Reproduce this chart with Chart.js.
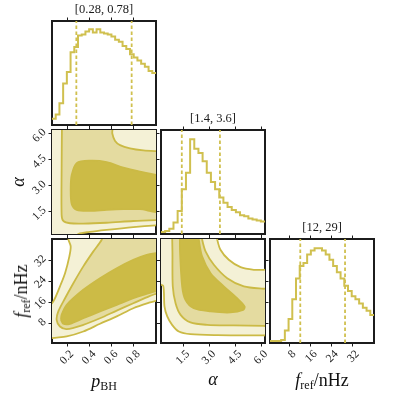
<!DOCTYPE html>
<html><head><meta charset="utf-8">
<script src="https://cdn.jsdelivr.net/npm/chart.js@4.4.0/dist/chart.umd.min.js"></script>
<style>
html,body{margin:0;padding:0;background:#fff;}
#wrap{position:relative;width:395px;height:395px;overflow:hidden;background:#fff;}
canvas{position:absolute;}
.lab{position:absolute;font-family:"Liberation Serif",serif;font-size:18px;color:#111;white-space:nowrap;line-height:1;}
.lab i{font-style:italic;}
.lab sub{font-size:12px;vertical-align:-3px;line-height:0;}
</style></head><body><div id="wrap"></div>
<script>
// ---------------- data ----------------
const pRange = [0.06, 1.0];
const aRange = [0.2, 6.2];
const fRange = [0.5, 40];
const pTicks = [0.2, 0.4, 0.6, 0.8];
const aTicks = [1.5, 3.0, 4.5, 6.0];
const fTicks = [8, 16, 24, 32];

// 1D marginal histograms (relative heights)
const pHist = [0.06,0.10,0.21,0.40,0.51,0.70,0.75,0.86,0.87,0.90,0.92,0.89,0.92,0.89,
               0.88,0.87,0.85,0.82,0.80,0.76,0.73,0.68,0.65,0.62,0.59,0.56,0.52,0.50];
const aHist = [0.02,0.03,0.05,0.11,0.22,0.43,0.59,0.91,0.82,0.78,0.70,0.59,0.50,0.43,
               0.35,0.30,0.26,0.23,0.21,0.18,0.17,0.15,0.14,0.13,0.12];
const fHist = [0.02,0.02,0.02,0.03,0.12,0.23,0.42,0.62,0.74,0.77,0.85,0.89,0.91,0.91,
               0.89,0.85,0.80,0.74,0.68,0.62,0.55,0.50,0.45,0.42,0.38,0.34,0.31,0.27];
const pQuant = [0.28, 0.78];
const aQuant = [1.4, 3.6];
const fQuant = [12, 29];
const titles = ['[0.28, 0.78]', '[1.4, 3.6]', '[12, 29]'];

// 2D credible-region contours (x, y pairs in data units), outer -> inner
const pa_light  = [[-0.1,7],[1.1,7],[1.1,0.72],[1.0,0.70],[0.795,0.60],[0.554,0.44],[0.40,0.32],[0.298,0.2],[0.27,0.0],[-0.1,0.0]];
const pa_medium = [[0.150,6.5],[0.147,4.0],[0.147,1.3],[0.162,0.96],[0.223,0.82],[0.343,0.80],[0.554,0.85],[0.795,0.95],[1.0,1.0],[1.05,1.0],
                   [1.05,4.98],[1.0,4.98],[0.886,5.02],[0.765,5.14],[0.675,5.33],[0.63,5.57],[0.605,6.0],[0.60,6.5]];
const pa_dark   = [[1.05,3.55],[0.855,3.80],[0.705,4.03],[0.554,4.35],[0.403,4.43],[0.283,4.29],[0.238,3.60],[0.229,2.81],[0.238,1.93],
                   [0.283,1.59],[0.403,1.53],[0.554,1.59],[0.705,1.63],[0.855,1.63],[1.05,1.55]];

const pf_light  = [[0.215,42],[0.208,39.9],[0.229,37.2],[0.217,33.4],[0.178,27.0],[0.132,22.0],[0.087,17.5],[0.06,15.6],[0.0,14.5],
                   [0.0,1.5],[0.06,2.34],[0.193,3.0],[0.343,4.87],[0.494,7.8],[0.645,10.6],[0.795,13.7],[0.946,15.9],[1.0,16.5],[1.05,17.2],[1.05,42]];
const pf_medium = [[0.52,42],[0.509,39.7],[0.434,35.3],[0.343,29.6],[0.253,23.2],[0.178,17.5],[0.117,12.5],[0.102,9.3],[0.132,6.77],
                   [0.193,5.76],[0.343,7.4],[0.494,9.9],[0.645,12.8],[0.795,15.6],[0.946,18.4],[1.0,19.2],[1.05,19.9],[1.05,42]];
const pf_dark   = [[0.141,9.3],[0.147,11.2],[0.193,15.0],[0.343,20.7],[0.494,25.1],[0.645,28.9],[0.795,32.1],[0.916,34.0],[1.0,34.6],
                   [1.05,34.8],[1.05,19.8],[1.0,20.1],[0.886,18.8],[0.795,17.5],[0.645,15.0],[0.494,12.5],[0.343,9.9],[0.223,7.8],[0.162,7.8]];

const af_light  = [[0.0,42],[3.40,42],[3.44,39.9],[3.63,35.9],[4.11,32.1],[4.79,29.3],[5.56,28.3],[6.13,28.3],[6.5,28.3],[6.5,3.4],
                   [6.13,3.4],[3.44,3.5],[1.90,3.86],[1.23,4.87],[0.84,7.4],[0.56,10.6],[0.40,14.4],[0.33,22.2],[0.10,23.0]];
const af_medium = [[0.84,42],[0.86,35],[0.88,22.0],[1.04,15.6],[1.33,11.2],[1.90,8.3],[2.86,7.4],[4.40,7.2],[6.13,7.0],[6.5,7.0],
                   [6.5,21.1],[6.13,21.1],[4.98,22.0],[4.02,25.1],[3.25,30.2],[2.77,35.3],[2.57,39.9],[2.55,42]];
const af_dark   = [[1.29,42],[1.30,35],[1.42,22.0],[1.61,16.9],[2.09,13.7],[3.06,12.5],[4.21,12.1],[4.94,13.1],[5.02,14.4],[4.59,17.5],
                   [3.82,22.0],[3.06,27.0],[2.57,33.4],[2.38,39.9],[2.36,42]];

// ---------------- style / layout ----------------
const INK = '#1c1c1c';
const LINE = '#cbba45';
const HISTC = '#d0c04f';
const FILLS = ['#f4f1d6', '#e4dba0', '#ccbb46'];
const PW = 104, PH = 104;
const colX = [52, 161, 270];
const rowY = [21, 130, 239];
const M = {l: 52, r: 10, t: 24, b: 48};
const FONT = 'Liberation Serif';

const wrap = document.getElementById('wrap');

function scale(position, range, tickVals, showLabels, decimals, title) {
  const horiz = position === 'top' || position === 'bottom';
  const size = {left: M.l, right: M.r, top: M.t, bottom: M.b}[position];
  return {
    type: 'linear', axis: horiz ? 'x' : 'y', position, min: range[0], max: range[1],
    afterBuildTicks: s => { s.ticks = tickVals.map(v => ({value: v})); },
    afterFit: s => {
      if (horiz) s.height = size; else s.width = size;
      s.paddingLeft = s.paddingRight = s.paddingTop = s.paddingBottom = 0;
    },
    grid: {display: true, drawOnChartArea: false, drawTicks: true, tickLength: 3.5, tickWidth: 1, tickColor: INK, color: INK},
    border: {display: true, color: INK, width: 2},
    ticks: {
      display: showLabels, autoSkip: false, minRotation: 45, maxRotation: 45,
      font: {family: FONT, size: 11.5}, color: INK, padding: horiz ? 1 : 4,
      labelOffset: horiz ? 4.5 : -3,
      callback: v => Number(v).toFixed(decimals)
    },
    title: title ? {display: true, text: title, color: INK, font: {family: FONT, size: 12.5}, padding: {top: 5, bottom: 0}}
                 : {display: false}
  };
}

function stepData(hist, range) {
  const n = hist.length, w = (range[1] - range[0]) / n;
  const pts = hist.map((h, i) => ({x: range[0] + i * w, y: h}));
  pts.push({x: range[1], y: hist[n - 1]});
  return pts;
}

function histDatasets(hist, range, quant) {
  const ds = [{data: stepData(hist, range), borderColor: HISTC, borderWidth: 2, stepped: 'before', fill: false, order: 0}];
  quant.forEach(q => ds.push({data: [{x: q, y: 0}, {x: q, y: 1}], borderColor: HISTC, borderWidth: 1.8,
                              borderDash: [3.5, 2.5], fill: false, order: 0}));
  return ds;
}

function contourDatasets(levels) {
  return levels.map((poly, k) => {
    const pts = poly.map(([x, y]) => ({x, y}));
    pts.push({x: poly[0][0], y: poly[0][1]});
    return {data: pts, borderColor: LINE, borderWidth: 1.8, backgroundColor: FILLS[k], fill: 'shape',
            tension: 0.3, order: 10 - k};
  });
}

const ranges = [pRange, aRange, fRange];
const ticksArr = [pTicks, aTicks, fTicks];
const decs = [1, 1, 0];

function panel(col, row, datasets) {
  const c = document.createElement('canvas');
  const w = PW + M.l + M.r, h = PH + M.t + M.b;
  c.width = w; c.height = h;
  c.style.left = (colX[col] - M.l) + 'px';
  c.style.top = (rowY[row] - M.t) + 'px';
  c.style.width = w + 'px'; c.style.height = h + 'px';
  wrap.appendChild(c);
  const diag = col === row;
  const yR = diag ? [0, 1] : ranges[row];
  const yT = diag ? [] : ticksArr[row];
  new Chart(c, {
    type: 'line',
    data: {datasets},
    options: {
      responsive: false, animation: false, devicePixelRatio: 1,
      layout: {padding: 0},
      plugins: {legend: {display: false}, tooltip: {enabled: false}},
      elements: {point: {radius: 0}, line: {capBezierPoints: false}},
      scales: {
        x:  scale('bottom', ranges[col], ticksArr[col], row === 2, decs[col]),
        x2: scale('top', ranges[col], ticksArr[col], false, decs[col], diag ? titles[col] : null),
        y:  scale('left', yR, yT, col === 0 && row > 0, decs[row]),
        y2: scale('right', yR, yT, false, decs[row])
      }
    }
  });
}

panel(0, 0, histDatasets(pHist, pRange, pQuant));
panel(1, 1, histDatasets(aHist, aRange, aQuant));
panel(2, 2, histDatasets(fHist, fRange, fQuant));
panel(0, 1, contourDatasets([pa_light, pa_medium, pa_dark]));
panel(0, 2, contourDatasets([pf_light, pf_medium, pf_dark]));
panel(1, 2, contourDatasets([af_light, af_medium, af_dark]));

// axis labels
function label(html, x, y, rot) {
  const d = document.createElement('div');
  d.className = 'lab';
  d.innerHTML = html;
  d.style.left = x + 'px'; d.style.top = y + 'px';
  d.style.transform = 'translate(-50%,-50%)' + (rot ? ' rotate(-90deg)' : '');
  wrap.appendChild(d);
}
label('<i>p</i><sub>BH</sub>', 104, 381, false);
label('<i>α</i>', 213, 379, false);
label('<i>f</i><sub>ref</sub>/nHz', 322, 380, false);
label('<i>α</i>', 18, 182, true);
label('<i>f</i><sub>ref</sub>/nHz', 21, 291, true);
</script></body></html>
